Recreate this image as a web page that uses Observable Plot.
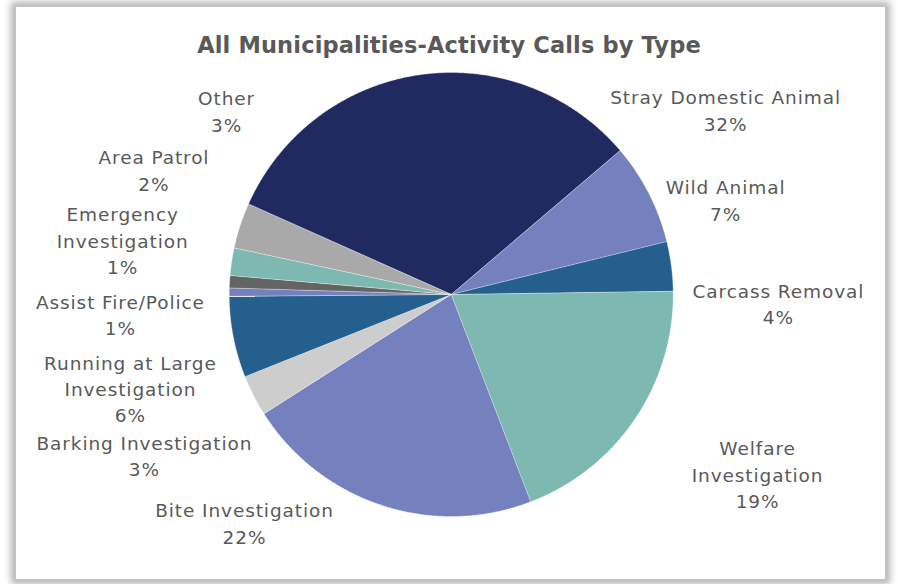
<!DOCTYPE html>
<html>
<head>
<meta charset="utf-8">
<script src="https://cdn.jsdelivr.net/npm/d3@7"></script>
<script src="https://cdn.jsdelivr.net/npm/@observablehq/plot@0.6"></script>
<style>
  html, body { margin: 0; padding: 0; background: #ffffff; }
  #page { position: relative; width: 898px; height: 584px; overflow: hidden; background: #fff; }
  #frame {
    position: absolute; left: 15px; top: 6px; width: 871px; height: 574px;
    box-sizing: border-box; border: 1.5px solid #c4c4c4; background: #fff;
    box-shadow: 0 0 7px 4px rgba(0,0,0,0.30);
  }
  #title {
    position: absolute; left: 0; top: 28px; width: 898px; text-align: center;
    font-family: "DejaVu Sans", sans-serif; font-weight: bold; font-size: 22.5px;
    color: #595959; line-height: 34px; letter-spacing: 0.15px;
  }
  #chart { position: absolute; left: 0; top: 70px; }
  #chart text { letter-spacing: 0.9px; }
</style>
</head>
<body>
<div id="page">
  <div id="frame"></div>
  <div id="title">All Municipalities-Activity Calls by Type</div>
  <div id="chart"></div>
</div>
<script>
// ---- data (clockwise order) ----
const categories = [
  "Stray Domestic Animal", "Wild Animal", "Carcass Removal", "Welfare Investigation",
  "Bite Investigation", "Barking Investigation", "Running at Large Investigation",
  "Assist Fire/Police", "Emergency Investigation", "Area Patrol", "Other"
];
const shares = [32.1, 7.4, 3.6, 19.4, 21.8, 3.0, 5.9, 0.6, 0.9, 2.0, 3.3];
const labelLines = [
  ["Stray Domestic Animal"], ["Wild Animal"], ["Carcass Removal"], ["Welfare", "Investigation"],
  ["Bite Investigation"], ["Barking Investigation"], ["Running at Large", "Investigation"],
  ["Assist Fire/Police"], ["Emergency", "Investigation"], ["Area Patrol"], ["Other"]
];
const sliceColors = [
  "#202a61", "#7580be", "#255f8e", "#7db8b1", "#7580be", "#cdcdcd",
  "#255f8e", "#7580be", "#646464", "#7db8b1", "#a9a9a9"
];

// ---- layout ----
const W = 898, H = 514;
const cx = 450.7, cy = 224, R = 222;         // pie centre / radius in SVG px
const startDeg = -66;                          // first slice starts here (clockwise from 12 o'clock)
// label block centres, in pie-radius units relative to the centre (y up)
const labelAnchors = [
  [1.236, 0.827], [1.236, 0.421], [1.474, -0.045], [1.380, -0.815],
  [-0.931, -1.034], [-1.382, -0.730], [-1.445, -0.428], [-1.490, -0.095],
  [-1.480, 0.239], [-1.339, 0.556], [-1.012, 0.822]
];

const rows = categories.map((name, i) => ({name, value: shares[i], i}));
const total = d3.sum(shares);
const pie = d3.pie().value(d => d.value).sort(null)
  .startAngle(startDeg * Math.PI / 180).endAngle(startDeg * Math.PI / 180 + 2 * Math.PI);
const arcs = pie(rows);

const poly = [];
arcs.forEach(a => {
  poly.push({name: a.data.name, x: 0, y: 0});
  const n = Math.max(2, Math.ceil((a.endAngle - a.startAngle) / (0.4 * Math.PI / 180)));
  for (let k = 0; k <= n; k++) {
    const t = a.startAngle + (a.endAngle - a.startAngle) * k / n;
    poly.push({name: a.data.name, x: Math.sin(t), y: Math.cos(t)});
  }
});

const labels = arcs.map((a, i) => ({
  x: labelAnchors[i][0], y: labelAnchors[i][1],
  text: labelLines[i].join("\n") + "\n" + Math.round(a.data.value / total * 100) + "%"
}));

const chart = Plot.plot({
  width: W, height: H,
  margin: 0,
  x: {domain: [-cx / R, (W - cx) / R], range: [0, W], axis: null},
  y: {domain: [cy / R, -(H - cy) / R], range: [0, H], axis: null},
  color: {domain: categories, range: sliceColors},
  style: {background: "transparent", overflow: "visible"},
  marks: [
    Plot.line(poly, {x: "x", y: "y", z: "name", fill: "name", stroke: "#ffffff",
      strokeWidth: 0.5, strokeOpacity: 0.7, curve: "linear-closed"}),
    Plot.text(labels, {x: "x", y: "y", text: "text", fill: "#595959",
      fontSize: 18.5, lineHeight: 1.43, fontFamily: "DejaVu Sans, sans-serif",
      textAnchor: "middle", dy: -2})
  ]
});
document.getElementById("chart").appendChild(chart);
</script>
</body>
</html>
